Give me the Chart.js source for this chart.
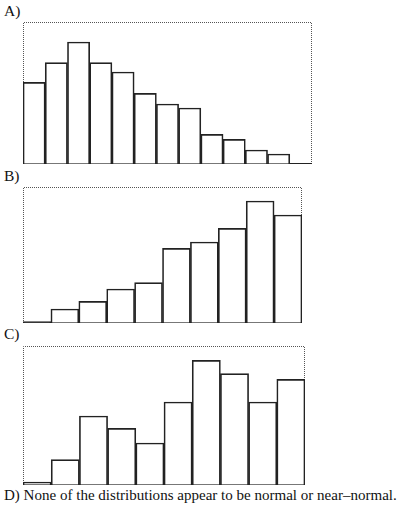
<!DOCTYPE html>
<html><head><meta charset="utf-8">
<script src="https://cdn.jsdelivr.net/npm/chart.js@4"></script>
<style>
html,body{margin:0;padding:0;background:#fff;width:414px;height:508px;overflow:hidden;position:relative;font-family:"Liberation Serif","DejaVu Serif",serif;color:#111}
.lbl{position:absolute;left:4px;font-size:15.5px;line-height:1;white-space:nowrap}
.box{position:absolute}
</style></head><body>
<div class="lbl" style="top:3px">A)</div>
<div class="lbl" style="top:168px">B)</div>
<div class="lbl" style="top:326px">C)</div>
<div class="lbl" id="dtext" style="top:488px">D) None of the distributions appear to be normal or near–normal.</div>
<div class="box" style="left:22px;top:21px;width:291px;height:144px"><canvas id="cA" width="291" height="144"></canvas></div>
<div class="box" style="left:22px;top:186px;width:281px;height:138px"><canvas id="cB" width="281" height="138"></canvas></div>
<div class="box" style="left:22px;top:345px;width:284px;height:141px"><canvas id="cC" width="284" height="141"></canvas></div>
<script>
// Histogram A: 13 bins (right-skewed)
const binsA = ["1","2","3","4","5","6","7","8","9","10","11","12","13"];
const valuesA = [81.6, 101.3, 122, 101.3, 92, 70.6, 60, 56, 29.6, 24.6, 14, 10, 0.6];
const maxA = 142;
// Histogram B: 10 bins (left-skewed)
const binsB = ["1","2","3","4","5","6","7","8","9","10"];
const valuesB = [1.3, 14, 21.7, 34, 40.3, 74.7, 81, 94.7, 122, 108];
const maxB = 136;
// Histogram C: 10 bins
const binsC = ["1","2","3","4","5","6","7","8","9","10"];
const valuesC = [3, 25.3, 69, 56.7, 42, 83, 124.7, 111.3, 83, 105.7];
const maxC = 139;

const framePlugin = {
  id: 'frame',
  beforeDatasetsDraw(chart) {
    const {ctx, chartArea: a} = chart;
    ctx.save();
    ctx.strokeStyle = '#555';
    ctx.lineWidth = 1;
    ctx.setLineDash([1, 1]);
    ctx.beginPath();
    ctx.moveTo(a.left + 0.5, a.bottom);
    ctx.lineTo(a.left + 0.5, a.top + 0.5);
    ctx.lineTo(a.right - 0.5, a.top + 0.5);
    ctx.lineTo(a.right - 0.5, a.bottom);
    ctx.stroke();
    ctx.setLineDash([]);
    ctx.strokeStyle = '#777';
    ctx.lineWidth = 1.2;
    ctx.beginPath();
    ctx.moveTo(a.left, a.bottom - 0.5);
    ctx.lineTo(a.right, a.bottom - 0.5);
    ctx.stroke();
    ctx.restore();
  }
};

function makeHist(id, labels, values, ymax) {
  new Chart(document.getElementById(id), {
    type: 'bar',
    data: {
      labels: labels,
      datasets: [{
        data: values,
        backgroundColor: 'rgba(255,255,255,0)',
        borderColor: '#222222',
        borderWidth: 1,
        categoryPercentage: 1,
        barPercentage: 1
      }]
    },
    options: {
      responsive: false,
      animation: false,
      layout: {padding: {left: 1, right: 1, top: 1, bottom: 1}},
      plugins: {legend: {display: false}, tooltip: {enabled: false}},
      scales: {
        x: {display: false, grid: {display: false}},
        y: {display: false, min: 0, max: ymax, grid: {display: false}}
      }
    },
    plugins: [framePlugin]
  });
}
makeHist('cA', binsA, valuesA, maxA);
makeHist('cB', binsB, valuesB, maxB);
makeHist('cC', binsC, valuesC, maxC);

// fit D) line to the reference width
(function(){
  const el = document.getElementById('dtext');
  const target = 393;
  const w = el.getBoundingClientRect().width;
  if (w > 0) {
    const fs = Math.max(11, Math.min(17, 15.5 * target / w));
    el.style.fontSize = fs.toFixed(2) + 'px';
  }
})();
</script>
</body></html>
